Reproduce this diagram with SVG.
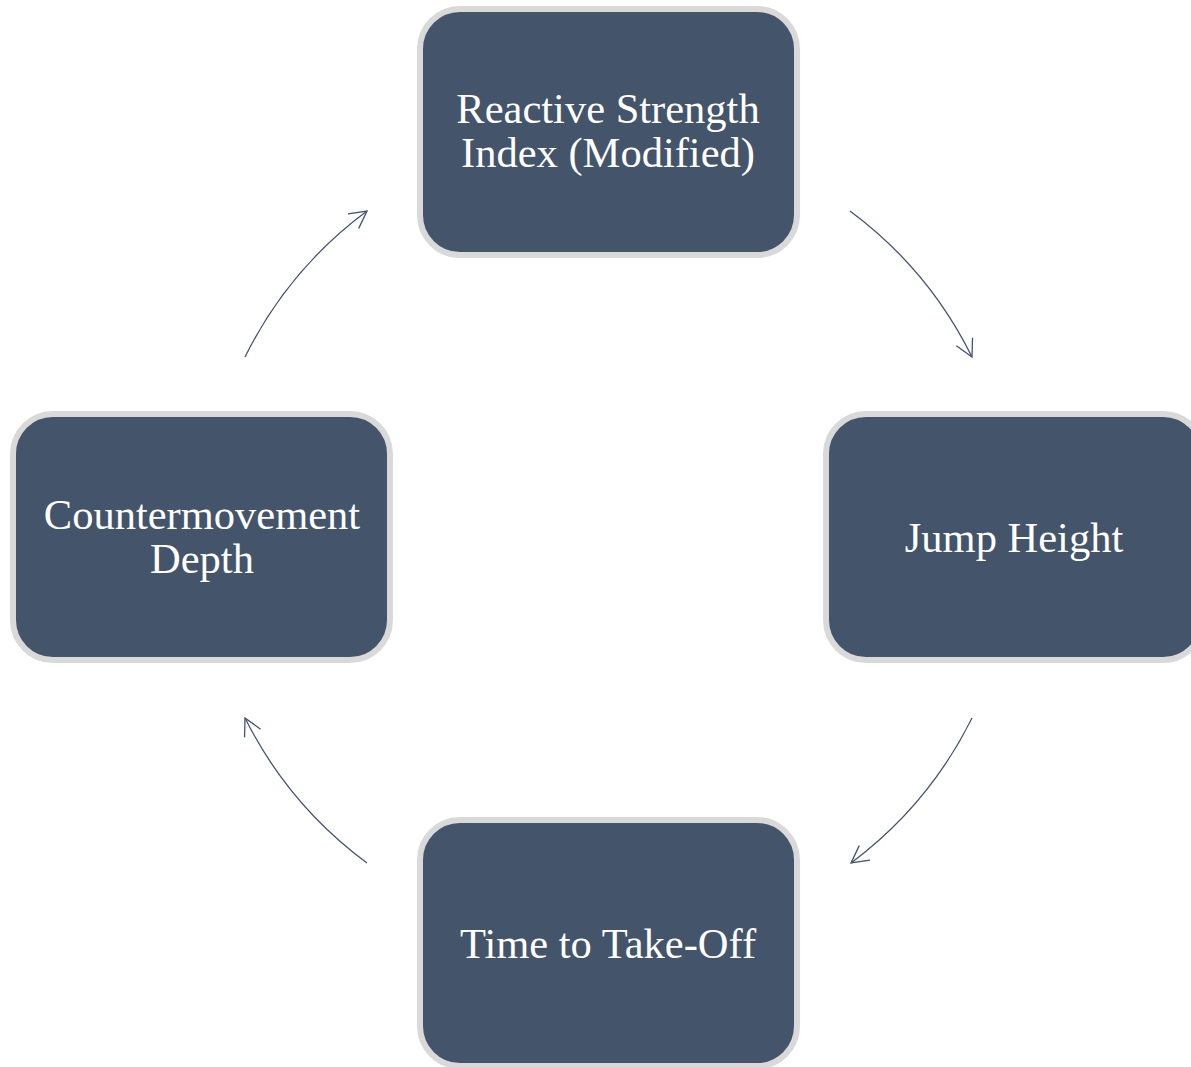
<svg xmlns="http://www.w3.org/2000/svg" width="1191" height="1067" viewBox="0 0 1191 1067">
<style>
.box{fill:#44546a;stroke:#d9d9d9;stroke-width:6}
.lbl{font-family:"Liberation Serif","Times New Roman",serif;font-size:42.5px;fill:#ffffff;text-anchor:middle}
.con{fill:none;stroke:#44546a;stroke-width:1.3}
</style>
<defs>
<marker id="arr" markerUnits="userSpaceOnUse" viewBox="-20 -11 22 22" refX="0" refY="0" markerWidth="22" markerHeight="22" orient="auto">
<path d="M-17,-9 L0,0 L-17,9" fill="none" stroke="#44546a" stroke-width="1.3"/>
</marker>
</defs>
<rect width="1191" height="1067" fill="#ffffff"/>
<g id="connectors">
<path class="con" d="M850,211 A406,406 0 0 1 972,357" marker-end="url(#arr)"/>
<path class="con" d="M972,718 A406,406 0 0 1 851,863" marker-end="url(#arr)"/>
<path class="con" d="M367,863 A406,406 0 0 1 245,718" marker-end="url(#arr)"/>
<path class="con" d="M245,357 A406,406 0 0 1 367,211" marker-end="url(#arr)"/>
</g>
<g id="node-rsi">
<rect class="box" x="420" y="9" width="377" height="246" rx="40"/>
<text class="lbl" x="608" y="123">Reactive Strength</text>
<text class="lbl" x="608" y="167">Index (Modified)</text>
</g>
<g id="node-jump">
<rect class="box" x="826" y="414" width="377" height="246" rx="40"/>
<text class="lbl" x="1014" y="552">Jump Height</text>
</g>
<g id="node-time">
<rect class="box" x="420" y="820" width="377" height="246" rx="40"/>
<text class="lbl" x="608" y="958">Time to Take-Off</text>
</g>
<g id="node-depth">
<rect class="box" x="13" y="414" width="377" height="246" rx="40"/>
<text class="lbl" x="202" y="529">Countermovement</text>
<text class="lbl" x="202" y="573">Depth</text>
</g>
</svg>
